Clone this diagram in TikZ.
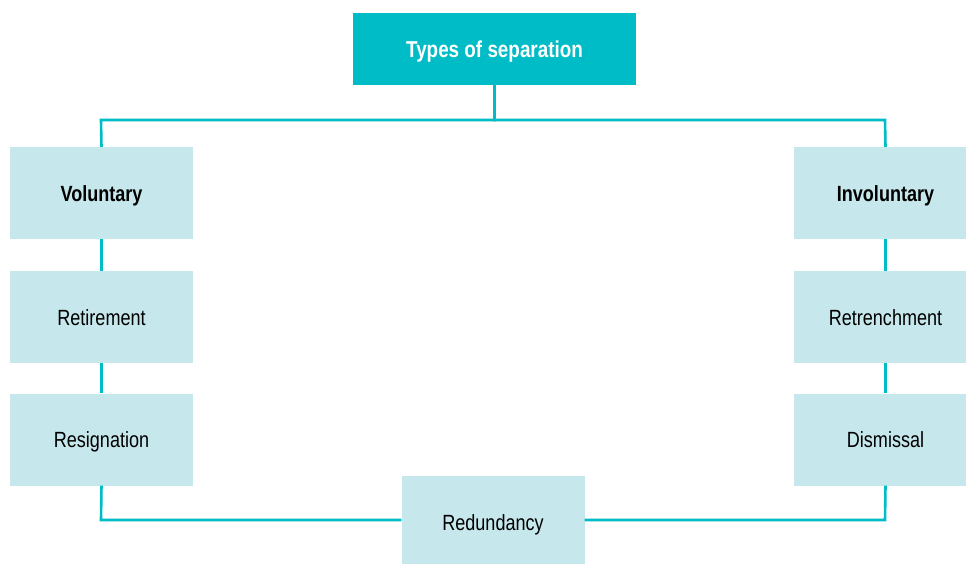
\documentclass[tikz,border=0pt]{standalone}
\usepackage{fontspec}
\setmainfont{Liberation Sans}[FakeStretch=0.82]
\definecolor{teal1}{HTML}{00BCC6}
\definecolor{pale}{HTML}{C6E7EC}
\begin{document}
\begin{tikzpicture}[x=1pt,y=-1pt,
  box/.style={fill=pale,draw=none,minimum width=183pt,minimum height=92pt,inner sep=0pt,text height=16pt,text depth=0pt,font=\fontsize{22}{26}\selectfont},
  conn/.style={draw=teal1,line width=2.6pt}]
\useasboundingbox (0,0) rectangle (966,563);
\clip (0,0) rectangle (966,563);
\node[fill=teal1,minimum width=283pt,minimum height=72pt,inner sep=0pt,text height=16.5pt,text depth=0pt,text=white,font=\fontsize{23}{27}\selectfont\bfseries] (top) at (494.5,49) {Types of separation};
\node[box,font=\fontsize{22}{26}\selectfont\bfseries] (vol) at (101.5,193) {Voluntary};
\node[box] (ret) at (101.5,317) {Retirement};
\node[box] (res) at (101.5,439.5) {Resignation};
\node[box,font=\fontsize{22}{26}\selectfont\bfseries] (inv) at (885.5,193) {Involuntary};
\node[box] (retr) at (885.5,317) {Retrenchment};
\node[box] (dis) at (885.5,439.5) {Dismissal};
\node[box] (red) at (493,522) {Redundancy};
\coordinate (tl) at (101,120);
\coordinate (tr) at (885,120);
\coordinate (bl) at (101,520);
\coordinate (br) at (885,520);
\draw[conn] (top.south) |- (tl) -- (vol.north);
\draw[conn] (top.south) |- (tr) -- (inv.north);
\draw[conn] (vol.south) -- (ret.north);
\draw[conn] (ret.south) -- (res.north);
\draw[conn] (inv.south) -- (retr.north);
\draw[conn] (retr.south) -- (dis.north);
\draw[conn] (res.south) -- (bl) -- (red.west |- bl);
\draw[conn] (dis.south) -- (br) -- (red.east |- br);
\end{tikzpicture}
\end{document}
